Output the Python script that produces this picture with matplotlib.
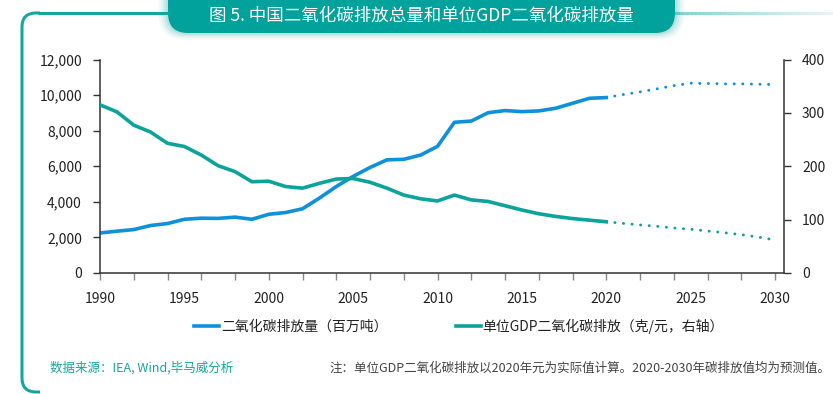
import matplotlib
matplotlib.use("Agg")
import matplotlib.pyplot as plt
import numpy as np
from matplotlib.patches import FancyBboxPatch, PathPatch
from matplotlib.path import Path

plt.rcParams['font.family'] = ['Noto Sans CJK SC', 'DejaVu Sans']

# ---------------- data ----------------
years_hist = [1990, 1991, 1992, 1993, 1994, 1995, 1996, 1997, 1998, 1999,
              2000, 2001, 2002, 2003, 2004, 2005, 2006, 2007, 2008, 2009,
              2010, 2011, 2012, 2013, 2014, 2015, 2016, 2017, 2018, 2019, 2020]
co2_total_hist = [2250, 2350, 2440, 2670, 2780, 3020, 3080, 3070, 3140, 3020,
                  3300, 3400, 3610, 4210, 4860, 5430, 5930, 6360, 6390, 6630,
                  7120, 8470, 8540, 9010, 9130, 9070, 9110, 9260, 9540, 9820, 9860]
co2_intensity_hist = [315, 302, 277, 264, 243, 237, 221, 201, 190, 171,
                      172, 162, 159, 168, 176, 177, 170, 159, 146, 139,
                      135, 146, 137, 134, 126, 118, 111, 106, 102, 99, 96]

years_fc = [2020, 2021, 2022, 2023, 2024, 2025, 2026, 2027, 2028, 2029, 2030]
co2_total_fc = [9860, 10030, 10180, 10350, 10530, 10670, 10650, 10630, 10630, 10610, 10590]
co2_intensity_fc = [96, 93, 90, 87.5, 84.3, 81.9, 78.7, 75.5, 71.8, 67.4, 61.8]

xtick_labels = [1990, 1995, 2000, 2005, 2010, 2015, 2020, 2025, 2030]
left_ticks = [0, 2000, 4000, 6000, 8000, 10000, 12000]
right_ticks = [0, 100, 200, 300, 400]

title = "图 5. 中国二氧化碳排放总量和单位GDP二氧化碳排放量"
legend_labels = ["二氧化碳排放量（百万吨）", "单位GDP二氧化碳排放（克/元，右轴）"]
source_text = "数据来源：IEA, Wind,毕马威分析"
note_text = "注：单位GDP二氧化碳排放以2020年元为实际值计算。2020-2030年碳排放值均为预测值。"

# ---------------- style ----------------
BLUE = "#0E90DB"
TEAL = "#0BA39A"
FRAME = "#12A8A0"
W, H = 833, 394

fig = plt.figure(figsize=(W / 100, H / 100), dpi=100)

# background / decoration axes in pixel coordinates
bg = fig.add_axes([0, 0, 1, 1])
bg.set_xlim(0, W)
bg.set_ylim(H, 0)
bg.axis("off")

# frame: left vertical with rounded corners
r = 14
verts = [(40, 13), (22 + r, 13), (22, 13), (22, 13 + r), (22, 392 - r),
         (22, 392), (22 + r, 392), (40, 392)]
codes = [Path.MOVETO, Path.LINETO, Path.CURVE3, Path.CURVE3, Path.LINETO,
         Path.CURVE3, Path.CURVE3, Path.LINETO]
bg.add_patch(PathPatch(Path(verts, codes), fill=False, edgecolor=FRAME, lw=2.2,
                       capstyle="butt"))
bg.plot([38, 170], [13, 13], color=FRAME, lw=2.2, solid_capstyle="butt")
# fading top line to right of title
xs = np.linspace(672, 833, 40)
for i in range(len(xs) - 1):
    a = 0.45 * (1 - i / len(xs)) + 0.08
    bg.plot([xs[i], xs[i + 1]], [13, 13], color=FRAME, lw=2.2, alpha=a,
            solid_capstyle="butt")

# glow around title box
for k, al in zip([16, 12, 8, 4], [0.05, 0.07, 0.09, 0.12]):
    bg.add_patch(FancyBboxPatch((168 - k * 0.6, -30), 507 + k * 1.2, 63 + k * 0.4,
                                boxstyle="round,pad=0,rounding_size=%f" % (20 + k * 0.4),
                                facecolor=TEAL, edgecolor="none", alpha=al))
bg.add_patch(FancyBboxPatch((168, -30), 507, 63,
                            boxstyle="round,pad=0,rounding_size=20",
                            facecolor="#00A29B", edgecolor="none"))
bg.text(421, 16, title, color="white", fontsize=12.6, ha="center", va="center")

# ---------------- main chart ----------------
ax = fig.add_axes([100 / W, 1 - 273 / H, (784 - 100) / W, (273 - 59.5) / H])
ax.patch.set_alpha(0)
ax2 = ax.twinx()

ax.plot(years_hist, co2_total_hist, color=BLUE, lw=2.6, solid_joinstyle="round",
        label=legend_labels[0])
ax.plot(years_fc, co2_total_fc, color=BLUE, lw=2.1, linestyle=(0, (0.05, 2.9)),
        dash_capstyle="round")
ax2.plot(years_hist, co2_intensity_hist, color=TEAL, lw=2.6, solid_joinstyle="round",
         label=legend_labels[1])
ax2.plot(years_fc, co2_intensity_fc, color=TEAL, lw=2.1, linestyle=(0, (0.05, 2.9)),
         dash_capstyle="round")

ax.set_xlim(1990, 2030.53)
ax.set_ylim(0, 12000)
ax2.set_ylim(0, 400)

ax.set_yticks(left_ticks)
ax.set_yticklabels([f"{v:,}" for v in left_ticks])
ax2.set_yticks(right_ticks)
ax2.set_yticklabels([str(v) for v in right_ticks])

ax.xaxis.remove_overlapping_locs = False
ax.set_xticks(list(range(1990, 2031, 2)))
ax.set_xticklabels([])
ax.set_xticks(xtick_labels, minor=True)
ax.set_xticklabels([str(v) for v in xtick_labels], minor=True)
ax.tick_params(axis="x", which="major", length=5, width=1, color="#888888",
               direction="out")
ax.tick_params(axis="x", which="minor", length=0, pad=14, labelsize=10,
               labelcolor="#222222")
ax.tick_params(axis="y", length=5, width=1, color="#333333", labelsize=10,
               labelcolor="#222222", pad=8)
ax2.tick_params(axis="y", length=5, width=1, color="#333333", labelsize=10,
                labelcolor="#222222", pad=8)

for a in (ax, ax2):
    a.spines["top"].set_visible(False)
    for s in ("left", "right", "bottom"):
        a.spines[s].set_color("#333333")
        a.spines[s].set_linewidth(1.1)
ax.spines["right"].set_visible(False)
ax2.spines["left"].set_visible(False)
ax2.spines["bottom"].set_visible(False)

# legend
h1 = ax.get_lines()[0]
h2 = ax2.get_lines()[0]
fig.legend([h1, h2], legend_labels, loc="center", bbox_to_anchor=(459 / W, 1 - 326 / H),
           ncol=2, frameon=False, fontsize=10, handlelength=1.8, handletextpad=0.15,
           columnspacing=4.9, labelcolor="#222222")

# footer
fig.text(50 / W, 1 - 368 / H, source_text, color="#18A59C", fontsize=9,
         ha="left", va="center")
fig.text(830 / W, 1 - 368 / H, note_text, color="#444444", fontsize=9,
         ha="right", va="center")

fig.savefig("out.png", dpi=100)
